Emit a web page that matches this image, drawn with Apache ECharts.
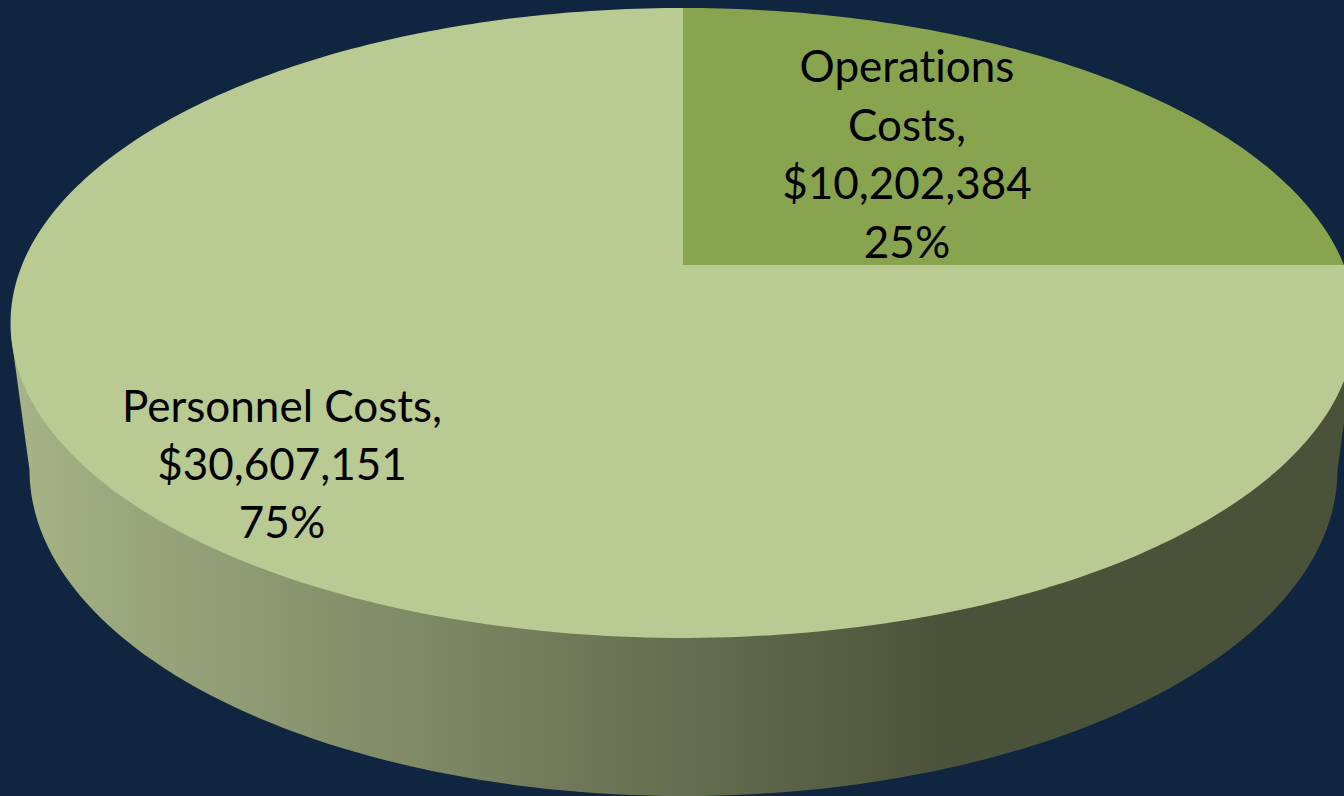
<!DOCTYPE html>
<html>
<head>
<meta charset="utf-8">
<style>html,body{margin:0;padding:0;background:#0f2540}#c{width:1344px;height:796px}#c text{font-variant-ligatures:none !important;font-feature-settings:"liga" 0,"clig" 0 !important}</style>
<script src="https://cdn.jsdelivr.net/npm/echarts@6/dist/echarts.min.js"></script>
</head>
<body>
<div id="c"></div>
<script>
var categories = ['Operations\nCosts', 'Personnel Costs'];
var values = [10202384, 30607151];
var sliceColors = ['#89a44e', '#b9cb93'];
var labelCenters = [[907, 153], [282, 463]];

var APEX = [683, 265], RX = 661, RY = 304.3, K = 0.184;
var WALL = { cx: 683.5, cy: 470, a: 654, b: 326 };
var FONT = '44px Lato, Carlito, sans-serif';

function rimPoint(theta) {
  var w = 1 + K * Math.cos(theta);
  return [APEX[0] + RX * Math.sin(theta) / w, APEX[1] - RY * Math.cos(theta) / w];
}
var total = values.reduce(function (a, b) { return a + b; }, 0);

function renderWall(params, api) {
  var pts = [];
  var i, t;
  for (i = 0; i <= 120; i++) {
    t = Math.PI * i / 120;
    pts.push([WALL.cx - WALL.a * Math.cos(t), WALL.cy + WALL.b * Math.sin(t)]);
  }
  pts.push([1356, 335]);
  pts.push([683, 300]);
  pts.push([11, 335]);
  return {
    type: 'polygon',
    shape: { points: pts },
    style: {
      fill: { type: 'linear', x: 15, y: 0, x2: 950, y2: 0, global: true,
        colorStops: [{ offset: 0, color: '#a5b386' }, { offset: 1, color: '#4b523a' }] }
    }
  };
}

function renderSlice(params, api) {
  var i = params.dataIndex;
  var before = 0;
  for (var j = 0; j < i; j++) before += values[j];
  var start = before / total * Math.PI * 2;
  var end = (before + api.value(0)) / total * Math.PI * 2;
  var pts = [APEX.slice()];
  var n = Math.max(8, Math.round((end - start) * 60));
  for (var s = 0; s <= n; s++) pts.push(rimPoint(start + (end - start) * s / n));
  return { type: 'polygon', shape: { points: pts }, style: { fill: sliceColors[i] } };
}

function renderLabel(params, api) {
  var i = params.dataIndex;
  var text = categories[i] + ',\n$' + values[i].toLocaleString('en-US') + '\n' + Math.round(values[i] / total * 100) + '%';
  return {
    type: 'text',
    x: labelCenters[i][0],
    y: labelCenters[i][1],
    style: { text: text, font: FONT, fill: '#000', align: 'center', verticalAlign: 'middle', lineHeight: 58.4 }
  };
}

var chart = echarts.init(document.getElementById('c'), null, { renderer: 'svg' });
chart.setOption({
  backgroundColor: '#0f2540',
  animation: false,
  series: [
    { type: 'custom', coordinateSystem: 'none', renderItem: renderWall, data: [[total]], silent: true, clip: false },
    { type: 'custom', coordinateSystem: 'none', renderItem: renderSlice, data: values.map(function (v) { return [v]; }), clip: false },
    { type: 'custom', coordinateSystem: 'none', renderItem: renderLabel, data: values.map(function (v) { return [v]; }), silent: true, clip: false }
  ]
});
</script>
</body>
</html>
